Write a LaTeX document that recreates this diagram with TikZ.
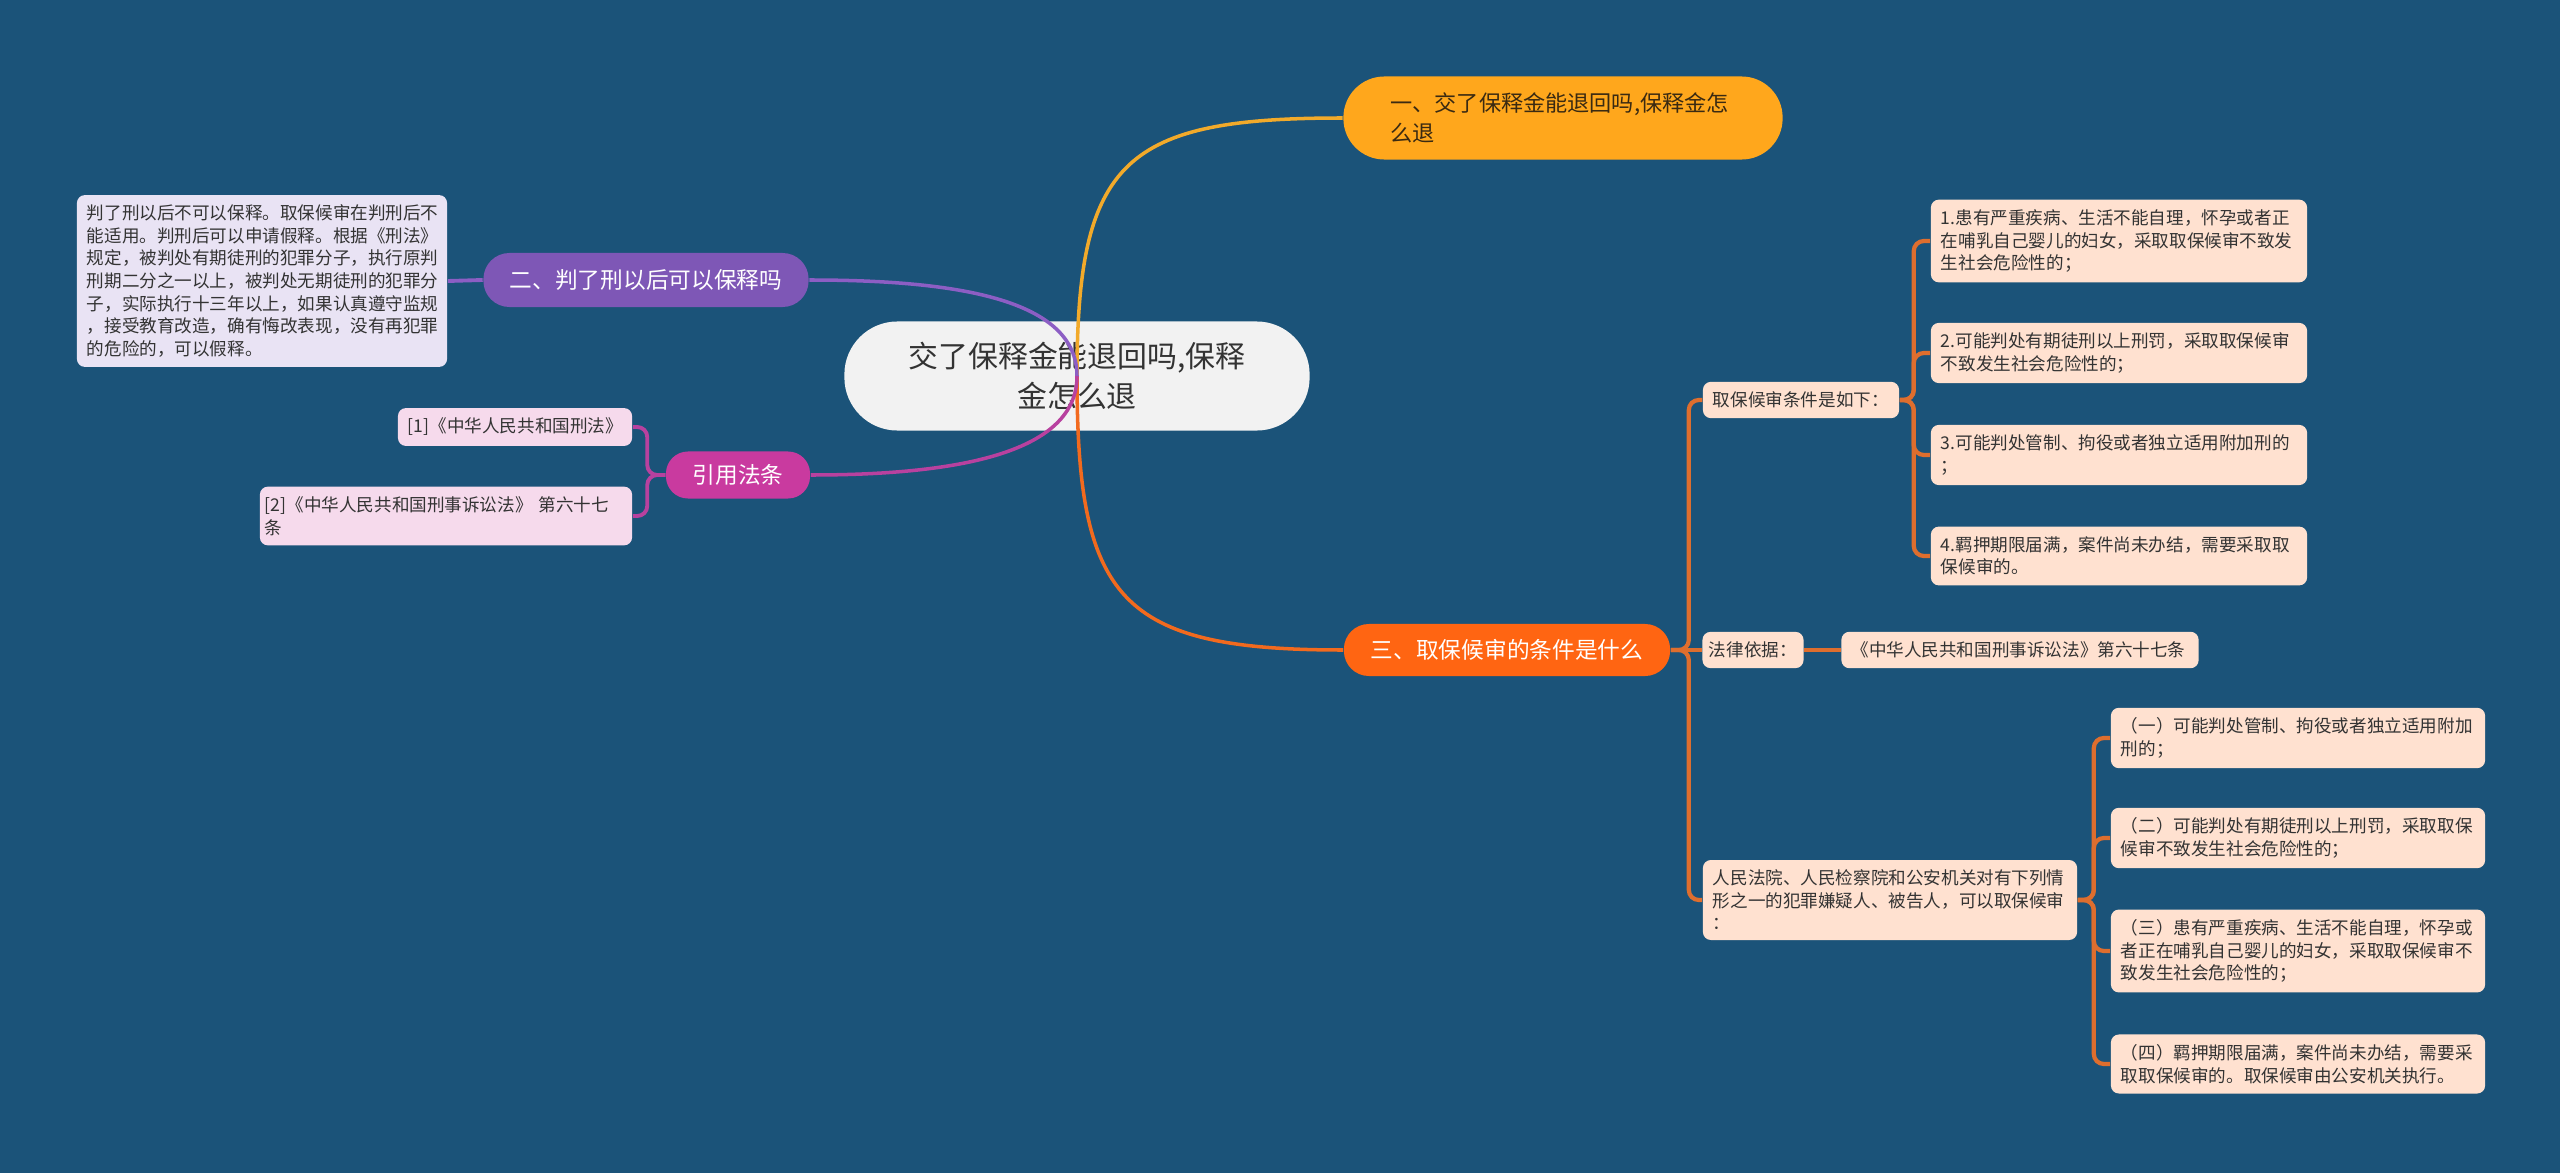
\documentclass[tikz,border=0pt]{standalone}
\usepackage{fontspec}
\setmainfont{Noto Sans CJK SC}

\definecolor{bgblue}{HTML}{1B5379}
\definecolor{rootfill}{HTML}{F2F2F2}
\definecolor{goldfill}{HTML}{FFA71C}
\definecolor{goldline}{HTML}{F2AA2A}
\definecolor{purplefill}{HTML}{7E57B6}
\definecolor{purpleline}{HTML}{8C5EC4}
\definecolor{magentafill}{HTML}{C93A9F}
\definecolor{magentaline}{HTML}{B8419F}
\definecolor{redorange}{HTML}{FF6512}
\definecolor{redline}{HTML}{F26A1E}
\definecolor{branchorange}{HTML}{DE6E2E}
\definecolor{peach}{HTML}{FFE1D0}
\definecolor{lavender}{HTML}{E9E3F4}
\definecolor{pinkleaf}{HTML}{F6DAEC}
\definecolor{inkdark}{HTML}{333333}
\definecolor{inkbrown}{HTML}{3A2A12}

\begin{document}
\begin{tikzpicture}[x=0.01cm, y=-0.01cm,
    rootnode/.style={fill=rootfill, text=inkdark, rounded corners=0.53cm,
        minimum width=4.65cm, minimum height=1.09cm, inner sep=0pt,
        align=center, font=\fontsize{8.5pt}{11.5pt}\selectfont},
    topic/.style={rounded corners=0.26cm, minimum height=0.54cm, inner sep=0pt,
        text=white, font=\fontsize{6.45pt}{8.5pt}\selectfont},
    leaf/.style={rounded corners=0.08cm, inner xsep=0.1cm, inner ysep=0.1cm,
        align=left, text=inkdark, font=\fontsize{5pt}{6.4pt}\selectfont},
    branch/.style={draw=branchorange, line width=1.2pt, rounded corners=0.1cm},
    citeline/.style={draw=magentaline, line width=1.1pt, rounded corners=0.1cm}]

    % Background
    \fill[bgblue] (0,0) rectangle (2560,1173);
    \useasboundingbox (0,0) rectangle (2560,1173);

    % Central topic
    \node[rootnode] (root) at (1077,376) {交了保释金能退回吗,保释\\金怎么退};

    % Main topics
    \node[fill=goldfill, text=inkbrown, rounded corners=0.41cm,
          minimum width=4.39cm, minimum height=0.83cm, inner xsep=0.47cm, inner ysep=0pt,
          text width=3.45cm, align=left, font=\fontsize{6.3pt}{8.5pt}\selectfont]
          (q1) at (1563,118) {一、交了保释金能退回吗,保释金怎\\么退};
    \node[topic, fill=purplefill, minimum width=3.25cm] (q2) at (646,280) {二、判了刑以后可以保释吗};
    \node[topic, fill=magentafill, minimum width=1.44cm, minimum height=0.47cm,
          rounded corners=0.22cm] (cite) at (738,475) {引用法条};
    \node[topic, fill=redorange, minimum width=3.26cm, minimum height=0.52cm,
          rounded corners=0.25cm] (q3) at (1507,650) {三、取保候审的条件是什么};

    % Left leaves
    \node[leaf, fill=lavender, text width=3.5cm] (note) at (262,281)
        {判了刑以后不可以保释。取保候审在判刑后不\\能适用。判刑后可以申请假释。根据《刑法》\\规定，被判处有期徒刑的犯罪分子，执行原判\\刑期二分之一以上，被判处无期徒刑的犯罪分\\子，实际执行十三年以上，如果认真遵守监规\\，接受教育改造，确有悔改表现，没有再犯罪\\的危险的，可以假释。};
    \node[leaf, fill=pinkleaf, text width=2.14cm] (law1) at (515,427) {[1]《中华人民共和国刑法》};
    \node[leaf, fill=pinkleaf, text width=3.62cm, inner xsep=0.05cm] (law2) at (446,516)
        {[2]《中华人民共和国刑事诉讼法》 第六十七\\条};

    % Right leaves: conditions
    \node[leaf, fill=peach, text width=1.76cm] (req) at (1801,400) {取保候审条件是如下：};
    \node[leaf, fill=peach, text width=3.56cm] (r1) at (2119,241)
        {1.患有严重疾病、生活不能自理，怀孕或者正\\在哺乳自己婴儿的妇女，采取取保候审不致发\\生社会危险性的；};
    \node[leaf, fill=peach, text width=3.56cm] (r2) at (2119,353)
        {2.可能判处有期徒刑以上刑罚，采取取保候审\\不致发生社会危险性的；};
    \node[leaf, fill=peach, text width=3.56cm] (r3) at (2119,455)
        {3.可能判处管制、拘役或者独立适用附加刑的\\；};
    \node[leaf, fill=peach, text width=3.56cm] (r4) at (2119,556)
        {4.羁押期限届满，案件尚未办结，需要采取取\\保候审的。};

    % Right leaves: legal basis
    \node[leaf, fill=peach, text width=0.88cm, inner xsep=0.065cm] (basis) at (1753,650) {法律依据：};
    \node[leaf, fill=peach, text width=3.37cm] (basisref) at (2020,650) {《中华人民共和国刑事诉讼法》第六十七条};

    % Right leaves: court
    \node[leaf, fill=peach, text width=3.54cm] (court) at (1890,900)
        {人民法院、人民检察院和公安机关对有下列情\\形之一的犯罪嫌疑人、被告人，可以取保候审\\：};
    \node[leaf, fill=peach, text width=3.54cm] (c1) at (2298,738)
        {（一）可能判处管制、拘役或者独立适用附加\\刑的；};
    \node[leaf, fill=peach, text width=3.54cm] (c2) at (2298,838)
        {（二）可能判处有期徒刑以上刑罚，采取取保\\候审不致发生社会危险性的；};
    \node[leaf, fill=peach, text width=3.54cm] (c3) at (2298,951)
        {（三）患有严重疾病、生活不能自理，怀孕或\\者正在哺乳自己婴儿的妇女，采取取保候审不\\致发生社会危险性的；};
    \node[leaf, fill=peach, text width=3.54cm] (c4) at (2298,1064)
        {（四）羁押期限届满，案件尚未办结，需要采\\取取保候审的。取保候审由公安机关执行。};

    % Main curves (drawn over the central topic)
    \draw[goldline, line width=1pt] (root.center) to[out=90, in=180, looseness=1.5] (q1.west);
    \draw[redline, line width=1pt] (root.center) to[out=-90, in=180, looseness=1.5] (q3.west);
    \draw[purpleline, line width=1pt] (q2.east) .. controls +(150,0) and +(0,-76) .. (root.center);
    \draw[magentaline, line width=1pt] (cite.east) .. controls +(150,0) and +(0,76) .. (root.center);

    % Sub-branches
    \draw[purpleline, line width=1.1pt] (q2.west) -- (note.east);
    \foreach \n in {law1,law2}
        \draw[citeline] (cite.west) -- ++(-18,0) |- (\n.east);
    \draw[branch] (q3.east) -- ++(18,0) |- (req.west);
    \draw[branch] (q3.east) -- ++(18,0) |- (court.west);
    \draw[branch] (q3.east) -- (basis.west);
    \draw[branch] (basis.east) -- (basisref.west);
    \foreach \n in {r1,r2,r3,r4}
        \draw[branch] (req.east) -- ++(14,0) |- (\n.west);
    \foreach \n in {c1,c2,c3,c4}
        \draw[branch] (court.east) -- ++(16,0) |- (\n.west);
\end{tikzpicture}
\end{document}
